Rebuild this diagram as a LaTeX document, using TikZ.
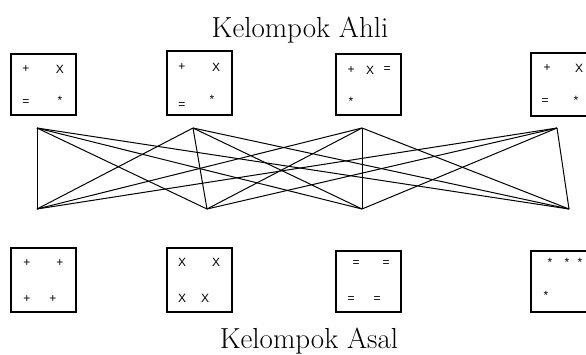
\documentclass[tikz,border=0pt]{standalone}
\usepackage{fontspec}
\newfontfamily\symfont{Liberation Sans}
\begin{document}
\begin{tikzpicture}[x=1pt,y=-1pt,
  box/.style={draw,line width=1.1pt,inner sep=0pt,minimum width=65pt},
  sym/.style={font=\symfont\fontsize{12}{13}\selectfont,inner sep=0pt},
  link/.style={line width=1pt},
  title/.style={font=\fontsize{29}{34}\selectfont,inner sep=0pt,anchor=base}]
\useasboundingbox (0,0) rectangle (586,354);
% titles
\node[title] (ta) at (300,37) {Kelompok Ahli};
\node[title] (tb) at (309,348) {Kelompok Asal};
% top boxes
\node[box,minimum height=61pt] (a1) at (43.5,84.5) {};
\node[box,minimum height=64pt] (a2) at (199.5,83) {};
\node[box,minimum height=61pt] (a3) at (368.5,84.5) {};
\node[box,minimum height=63pt] (a4) at (563.5,84.5) {};
% bottom boxes
\node[box,minimum height=64pt] (b1) at (43.5,280) {};
\node[box,minimum height=64pt] (b2) at (199.5,280) {};
\node[box,minimum height=61pt] (b3) at (368.5,281.5) {};
\node[box,minimum height=61pt] (b4) at (563.5,281.5) {};
% top symbols
\node[sym] (a1s1) at (26,69) {+};
\node[sym] (a1s2) at (60,69) {X};
\node[sym] (a1s3) at (26,103) {=};
\node[sym] (a1s4) at (60,100) {*};
\node[sym] (a2s1) at (182,67) {+};
\node[sym] (a2s2) at (216,67) {X};
\node[sym] (a2s3) at (182,106) {=};
\node[sym] (a2s4) at (212,99) {*};
\node[sym] (a3s1) at (351,70) {+};
\node[sym] (a3s2) at (370,70) {X};
\node[sym] (a3s3) at (387,70) {=};
\node[sym] (a3s4) at (351,101) {*};
\node[sym] (a4s1) at (547,68) {+};
\node[sym] (a4s2) at (579,68) {X};
\node[sym] (a4s3) at (545,102) {=};
\node[sym] (a4s4) at (576,100) {*};
% bottom symbols
\node[sym] (b1s1) at (27,263) {+};
\node[sym] (b1s2) at (60,263) {+};
\node[sym] (b1s3) at (27,299) {+};
\node[sym] (b1s4) at (53,299) {+};
\node[sym] (b2s1) at (182,262) {X};
\node[sym] (b2s2) at (216,262) {X};
\node[sym] (b2s3) at (182,298) {X};
\node[sym] (b2s4) at (205,298) {X};
\node[sym] (b3s1) at (356,264) {=};
\node[sym] (b3s2) at (386,264) {=};
\node[sym] (b3s3) at (351,300) {=};
\node[sym] (b3s4) at (377,300) {=};
\node[sym] (b4s1) at (550,262) {*};
\node[sym] (b4s2) at (567,262) {*};
\node[sym] (b4s3) at (580,262) {*};
\node[sym] (b4s4) at (546,295) {*};
% connector ends
\coordinate (p1) at (37,128);
\coordinate (p2) at (193,128);
\coordinate (p3) at (362,128);
\coordinate (p4) at (557,128);
\coordinate (q1) at (37,209);
\coordinate (q2) at (207,209);
\coordinate (q3) at (362,209);
\coordinate (q4) at (569,209);
\foreach \i in {1,...,4}{
  \foreach \j in {1,...,4}{
    \draw[link] (p\i) -- (q\j);
  }
}
\end{tikzpicture}
\end{document}
